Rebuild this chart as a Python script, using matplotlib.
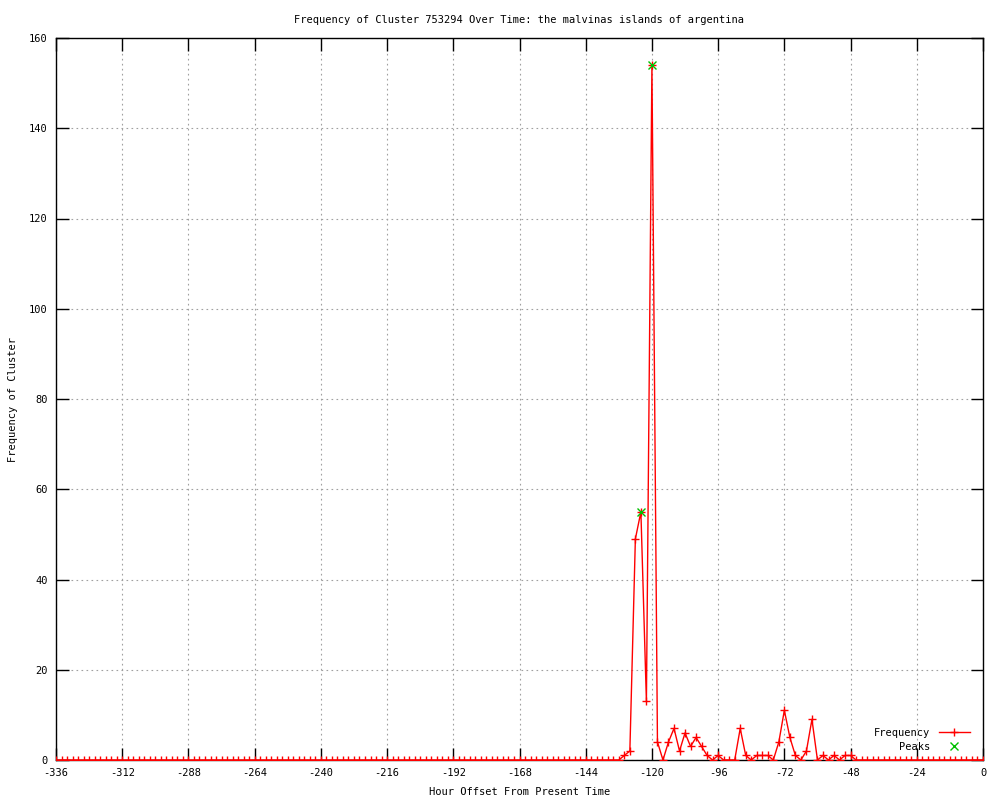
import numpy as np
import matplotlib
matplotlib.use("Agg")
import matplotlib.pyplot as plt

# hour offsets, one sample every 2 hours
hours = np.arange(-336, 1, 2)

# frequency per sample
freq = [
    0, 0, 0, 0, 0, 0, 0, 0, 0, 0, 0, 0, 0, 0, 0, 0, 0, 0, 0, 0, 0, 0, 0, 0,
    0, 0, 0, 0, 0, 0, 0, 0, 0, 0, 0, 0, 0, 0, 0, 0, 0, 0, 0, 0, 0, 0, 0, 0,
    0, 0, 0, 0, 0, 0, 0, 0, 0, 0, 0, 0, 0, 0, 0, 0, 0, 0, 0, 0, 0, 0, 0, 0,
    0, 0, 0, 0, 0, 0, 0, 0, 0, 0, 0, 0, 0, 0, 0, 0, 0, 0, 0, 0, 0, 0, 0, 0,
    0, 0, 0, 0, 0, 0, 0,
    # -130 .. -46
    1, 2, 49, 55, 13, 154, 4, 0, 4, 7, 2, 6, 3, 5, 3, 1, 0, 1, 0, 0, 0, 7,
    1, 0, 1, 1, 1, 0, 4, 11, 5, 1, 0, 2, 9, 0, 1, 0, 1, 0, 1, 1, 0,
    # -44 .. 0
    0, 0, 0, 0, 0, 0, 0, 0, 0, 0, 0, 0, 0, 0, 0, 0, 0, 0, 0, 0, 0, 0, 0,
]

peak_hours = [-124, -120]
peak_freq = [55, 154]

xticks = list(range(-336, 1, 24))
yticks = list(range(0, 161, 20))

plt.rcParams['font.family'] = ['DejaVu Sans Mono']
plt.rcParams['font.size'] = 7.5
plt.rcParams['axes.unicode_minus'] = False

fig = plt.figure(figsize=(10, 8), dpi=100)
ax = fig.add_axes([0.056, 0.05, 0.927, 0.9025])

ax.plot(hours, freq, color='red', lw=1, marker='+', ms=6, mew=1,
        label='Frequency', zorder=3)
ax.plot(peak_hours, peak_freq, ls='none', marker='x', color='#00c000',
        ms=6, mew=1, label='Peaks', zorder=4)

ax.set_xlim(-336, 0)
ax.set_ylim(0, 160)
ax.set_xticks(xticks)
ax.set_yticks(yticks)
ax.tick_params(direction='in', length=9, width=1, top=True, right=True,
               labelsize=7.5, pad=6)
ax.grid(True, color='#a0a0a0', ls=(0, (1.5, 3)), lw=0.8)
for s in ax.spines.values():
    s.set_linewidth(1)

ax.set_title('Frequency of Cluster 753294 Over Time: the malvinas islands of argentina',
             fontsize=7.5, pad=11)
ax.set_xlabel('Hour Offset From Present Time', fontsize=7.5, labelpad=6)
ax.set_ylabel('Frequency of Cluster', fontsize=7.5, labelpad=8)

ax.legend(loc='lower right', frameon=False, markerfirst=False, fontsize=7.5,
          handlelength=3, borderaxespad=0.4, labelspacing=0.35,
          bbox_to_anchor=(0.995, 0.0))

fig.savefig('out.png', dpi=100)
